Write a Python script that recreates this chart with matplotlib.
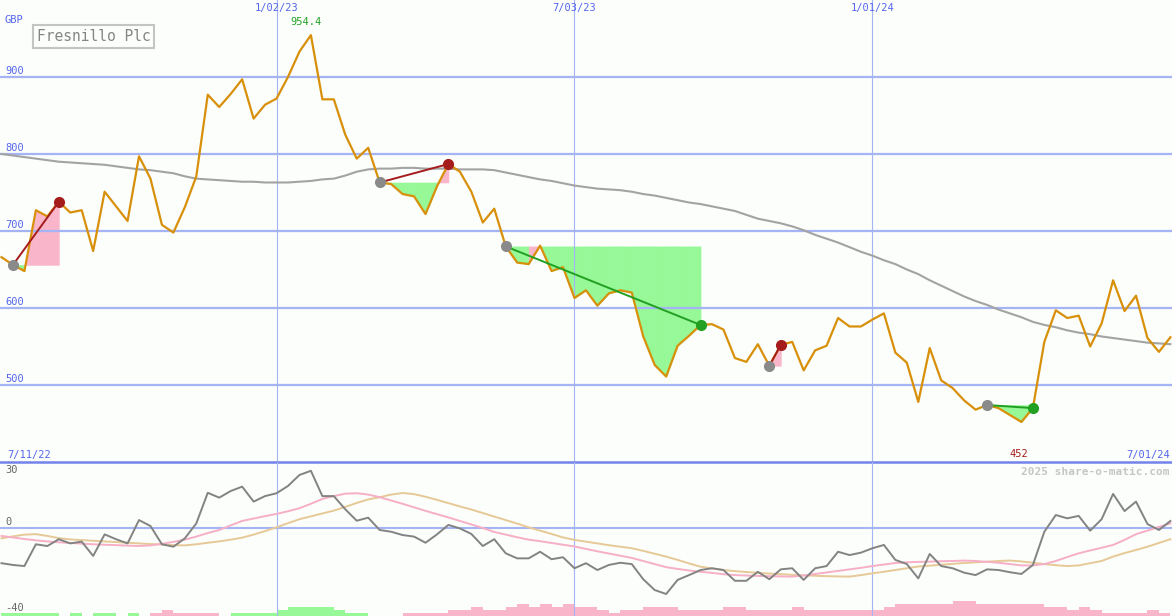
import numpy as np
import matplotlib.pyplot as plt
from matplotlib.transforms import blended_transform_factory

# weekly closing price (GBP pence)
price = [666, 656, 648, 727, 719, 738, 724, 727, 674, 751,
         732, 713, 797, 768, 708, 698, 731, 771, 877, 861,
         878, 897, 846, 864, 872, 900, 933, 954.4, 871, 871,
         825, 794, 808, 763, 761, 748, 745, 722, 758, 787,
         777, 751, 711, 729, 680, 659, 657, 681, 648, 653,
         613, 623, 603, 619, 623, 620, 563, 526, 511, 551,
         564, 578, 579, 572, 535, 530, 553, 525, 552, 556,
         519, 545, 551, 587, 576, 576, 585, 593, 542, 529,
         478, 548, 506, 496, 480, 468, 474, 470, 461, 452,
         470, 556, 597, 587, 590, 550, 580, 636, 596, 616,
         561, 543, 562]

# long moving average (grey)
ma_long = [800, 798, 796, 794, 792, 790, 789, 788, 787, 786,
           784, 782, 780, 779, 777, 775, 771, 768, 767, 766,
           765, 764, 764, 763, 763, 763, 764, 765, 767, 768,
           772, 777, 780, 781, 781, 782, 782, 781, 781, 781,
           780, 780, 780, 779, 776, 773, 770, 767, 765, 762,
           759, 757, 755, 754, 753, 751, 748, 746, 743, 740,
           737, 735, 732, 729, 726, 721, 716, 713, 710, 706,
           701, 695, 690, 685, 679, 673, 668, 662, 657, 650,
           644, 636, 629, 622, 615, 609, 604, 598, 593, 588,
           582, 578, 575, 571, 568, 566, 563, 561, 559, 557,
           555, 554, 553]

# lower panel oscillator and its two averages
osc = [-16, -16.8, -17.3, -7.4, -8.2, -5.1, -7, -6.2, -12.7, -2.9,
       -5.1, -7, 3.6, 0.9, -7.4, -8.5, -4.7, 2.1, 16, 13.8,
       16.8, 18.8, 12, 14.5, 15.8, 19.1, 24.1, 26, 14.5, 14.5,
       8.5, 3.3, 4.7, -0.9, -1.7, -3.2, -3.9, -6.7, -2.9, 1.4,
       -0.2, -2.7, -8.2, -5.1, -11.5, -13.8, -13.8, -10.8, -14.2, -13.3,
       -18.3, -16, -19.1, -16.8, -15.8, -16.4, -23.3, -28.2, -30, -23.6,
       -21.4, -19.1, -18.3, -19.1, -24, -24, -19.9, -23.3, -18.8, -18.3,
       -23.6, -18.3, -17.3, -10.8, -12.3, -11.2, -9.2, -7.7, -14.5, -16.4,
       -22.9, -11.8, -17.3, -18.3, -20.3, -21.4, -18.8, -19.1, -20.1, -20.9,
       -16.8, -1.7, 5.9, 4.4, 5.5, -1.2, 4, 15.5, 7.7, 12,
       1.8, -0.9, 3.2]

osc_fast = [-3.6, -4.3, -5.0, -5.6, -6.1, -6.5, -6.8, -7.1, -7.4, -7.6,
            -7.8, -8.0, -8.2, -7.9, -7.2, -6.3, -5.3, -3.9, -2.3, -0.9,
            1.2, 3.2, 4.3, 5.4, 6.4, 7.6, 9.0, 11.0, 13.2, 14.5,
            15.6, 15.8, 15.2, 14.0, 12.5, 11.0, 9.4, 7.8, 6.3, 4.8,
            3.2, 1.6, 0.0, -1.8, -3.0, -4.2, -5.3, -6.0, -6.8, -7.6,
            -8.4, -9.5, -10.6, -11.6, -12.6, -13.6, -15.0, -16.4, -17.8, -18.6,
            -19.3, -19.9, -20.4, -21.0, -21.4, -21.6, -21.8, -21.9, -22.0, -22.1,
            -21.6, -20.9, -20.2, -19.5, -18.8, -18.1, -17.3, -16.6, -15.9, -15.6,
            -15.4, -15.3, -15.1, -15.0, -14.8, -15.0, -15.4, -15.8, -16.4, -17.0,
            -17.0, -16.4, -15.0, -13.2, -11.5, -10.2, -9.0, -7.7, -5.4, -2.8,
            -1.2, 0.5, 2.1]

osc_slow = [-4.7, -3.8, -3.0, -2.8, -3.6, -4.6, -5.2, -5.5, -5.8, -6.1,
            -6.4, -6.7, -7.0, -7.3, -7.5, -7.8, -7.9, -7.4, -6.7, -6.1,
            -5.3, -4.4, -3.0, -1.4, 0.3, 2.2, 4.0, 5.3, 6.6, 7.9,
            9.6, 11.4, 13.0, 14.0, 15.2, 15.9, 15.4, 14.2, 12.8, 11.3,
            9.8, 8.4, 6.8, 5.2, 3.6, 2.0, 0.3, -1.2, -2.7, -4.3,
            -5.4, -6.2, -7.0, -7.8, -8.5, -9.2, -10.4, -11.7, -13.0, -14.5,
            -16.1, -17.6, -18.4, -19.1, -19.6, -20.0, -20.4, -20.7, -21.0, -21.3,
            -21.5, -21.7, -21.9, -22.0, -22.1, -21.4, -20.6, -19.9, -19.1, -18.3,
            -17.5, -17.1, -16.7, -16.3, -15.9, -15.6, -15.3, -15.0, -14.8, -15.2,
            -15.8, -16.4, -16.9, -17.3, -17.0, -16.0, -15.0, -13.0, -11.4, -10.0,
            -8.5, -6.8, -5.1]

# histogram strip at the bottom (positive = green, negative = pink)
strip = [1, 1, 1, 1, 1, 0, 1, 0, 1, 1,
         0, 1, 0, -1, -2, -1, -1, -1, -1, 0,
         1, 1, 1, 1, 2, 3, 3, 3, 3, 2,
         1, 1, 0, 0, 0, -1, -1, -1, -1, -2,
         -2, -3, -2, -2, -3, -4, -3, -4, -3, -4,
         -3, -3, -2, -1, -2, -2, -3, -3, -3, -2,
         -2, -2, -2, -3, -3, -2, -2, -2, -2, -3,
         -2, -2, -2, -2, -2, -2, -2, -3, -4, -4,
         -4, -4, -4, -5, -5, -4, -4, -4, -4, -4,
         -4, -3, -3, -2, -3, -2, -1, -1, -1, -1,
         -2, -1]

# pattern signals: (start week, end week, outcome)
patterns = [(1, 5, 'up'), (33, 39, 'up'), (44, 61, 'down'),
            (67, 68, 'up'), (86, 90, 'down')]

date_ticks = [24, 50, 76]
date_labels = ['1/02/23', '7/03/23', '1/01/24']
first_date, last_date = '7/11/22', '7/01/24'
price_ticks = [500, 600, 700, 800, 900]

bg = '#fbfefb'
grid = '#a4b4f4'
blue_txt = '#5566ee'
pink = '#f9b5c9'
green = '#96f896'
dred = '#a51c1c'
dgreen = '#22a022'
mono = 'DejaVu Sans Mono'

price = np.array(price)
weeks = np.arange(len(price))
xlim = (-0.13, 102.14)

fig = plt.figure(figsize=(11.72, 6.16), dpi=100, facecolor=bg)
ax = fig.add_axes([0, 0.25, 1, 0.75], facecolor='none')
ax2 = fig.add_axes([0, 0, 1, 0.25], facecolor='none')

for a in (ax, ax2):
    a.set_xlim(*xlim)
    a.set_xticks([])
    a.set_yticks([])
    for s in a.spines.values():
        s.set_visible(False)
    for d in date_ticks:
        a.axvline(d, color=grid, lw=0.8, zorder=1)

# ---- price panel ----
ax.set_ylim(400, 1000)
for p in price_ticks:
    ax.axhline(p, color=grid, lw=1.6, zorder=1)
ax.axhline(400, color='#7383ea', lw=1.8, zorder=1, clip_on=False)

for s, e, kind in patterns:
    level = price[s]
    for j in range(s, e):
        col = pink if price[j + 1] > level else green
        ax.fill_between([j, j + 1], level, price[j:j + 2], facecolor=col,
                        edgecolor=col, lw=0.4, zorder=0.5)

ax.plot(weeks, ma_long, color='#a3a3a3', lw=1.5, zorder=2)
ax.plot(weeks, price, color='#d8900a', lw=1.6, zorder=3)

for s, e, kind in patterns:
    col = dred if kind == 'up' else dgreen
    ax.plot([s, e], [price[s], price[e]], color=col, lw=1.4, zorder=4)
    ax.plot(s, price[s], 'o', color='#8a8a8a', ms=7, zorder=5)
    ax.plot(e, price[e], 'o', color=col, ms=7, zorder=5)

bt = blended_transform_factory(ax.transAxes, ax.transData)
for p in price_ticks:
    ax.annotate(str(p), xy=(0, p), xycoords=bt, xytext=(5, 1), textcoords='offset pixels',
                ha='left', va='bottom', color=blue_txt, fontsize=7.5, family=mono)
ax.text(0.004, 1 - 20 / 462, 'GBP', transform=ax.transAxes, ha='left', va='center',
        color=blue_txt, fontsize=7.5, family=mono)

tx = blended_transform_factory(ax.transData, ax.transAxes)
for d, lab in zip(date_ticks, date_labels):
    ax.annotate(lab, xy=(d, 1), xycoords=tx, xytext=(0, -3), textcoords='offset pixels',
                ha='center', va='top', color=blue_txt, fontsize=7.5, family=mono)
ax.text(0.006, 0.005, first_date, transform=ax.transAxes, ha='left', va='bottom',
        color=blue_txt, fontsize=7.5, family=mono)
ax.text(0.998, 0.005, last_date, transform=ax.transAxes, ha='right', va='bottom',
        color=blue_txt, fontsize=7.5, family=mono)

hi = int(np.argmax(price))
lo = int(np.argmin(price))
ax.annotate(f'{price[hi]:.1f}', xy=(hi, price[hi]), xytext=(-5, 8), textcoords='offset pixels',
            ha='center', va='bottom', color=dgreen, fontsize=7.5, family=mono)
ax.annotate(f'{price[lo]:.0f}', xy=(lo, 400), xytext=(-3, 3), textcoords='offset pixels',
            ha='center', va='bottom', color=dred, fontsize=7.5, family=mono)

ax.text(37 / 1172, 1 - 36.5 / 462, 'Fresnillo Plc', transform=ax.transAxes, ha='left',
        va='center', color='#858585', fontsize=10.5, family=mono,
        bbox=dict(boxstyle='square,pad=0.25', fc=bg, ec='#c4c4c4', lw=1.5))

# ---- oscillator panel ----
ax2.set_ylim(-40, 30)
ax2.axhline(0, color=grid, lw=1.5, zorder=1)
strip = np.array(strip)
step = 3 / 2.2
ax2.bar(np.arange(len(strip)), np.abs(strip) * step, bottom=-40, width=1, align='edge',
        color=np.where(strip > 0, green, pink), lw=0, zorder=0.5)
ax2.plot(weeks, osc_slow, color='#e6c996', lw=1.4, zorder=2)
ax2.plot(weeks, osc_fast, color='#f6afc6', lw=1.4, zorder=2)
ax2.plot(weeks, osc, color='#838383', lw=1.4, zorder=3)

bt2 = blended_transform_factory(ax2.transAxes, ax2.transData)
ax2.annotate('30', xy=(0, 30), xycoords=bt2, xytext=(5, -3), textcoords='offset pixels',
             ha='left', va='top', color='#666666', fontsize=7.5, family=mono)
ax2.annotate('0', xy=(0, 0), xycoords=bt2, xytext=(5, 1), textcoords='offset pixels',
             ha='left', va='bottom', color='#666666', fontsize=7.5, family=mono)
ax2.annotate('-40', xy=(0, -40), xycoords=bt2, xytext=(5, 3), textcoords='offset pixels',
             ha='left', va='bottom', color='#666666', fontsize=7.5, family=mono)
ax2.text(0.998, 0.965, '2025 share-o-matic.com', transform=ax2.transAxes, ha='right', va='top',
         color='#c6c6c6', fontsize=8, family=mono, fontweight='bold')

fig.savefig('out.png', dpi=100, facecolor=bg)
